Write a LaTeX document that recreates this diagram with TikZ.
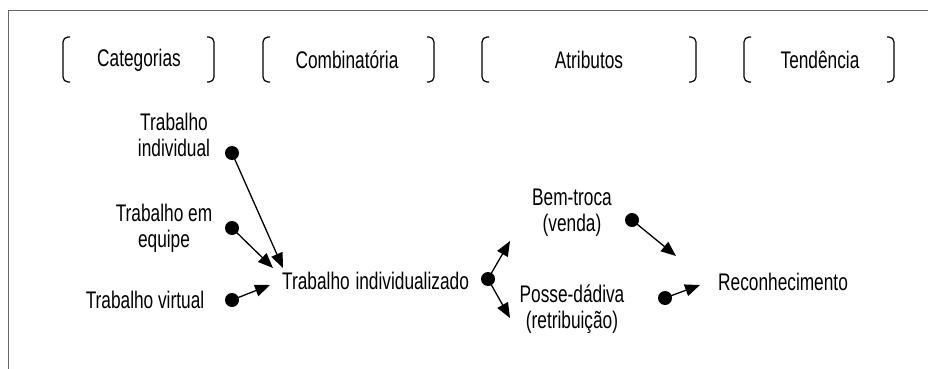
\documentclass[tikz,border=0pt]{standalone}
\usepackage{fontspec}
\setmainfont{Liberation Sans}[FakeStretch=0.72]
\usetikzlibrary{arrows.meta}
\begin{document}
\begin{tikzpicture}[x=1pt,y=-1pt,
  lbl/.style={font=\fontsize{24}{26}\selectfont, inner sep=0pt, align=center, text=black},
  dotnode/.style={circle, fill=black, inner sep=0pt, minimum size=14pt},
  conn/.style={line width=1.3pt, -{Triangle[length=15pt,width=12pt]}},
  brk/.style={line width=1.2pt, rounded corners=5pt}
]
\useasboundingbox (0,0) rectangle (928,369);
\draw[gray!80!black, line width=1pt] (928,11) -- (8,11) -- (8,369);

% header brackets
\draw[brk] (70,37) -- (63,37) -- (63,82) -- (70,82);
\draw[brk] (207,37) -- (214,37) -- (214,82) -- (207,82);
\node[lbl] (hcat) at (139,60) {Categorias};
\draw[brk] (270,37) -- (263,37) -- (263,82) -- (270,82);
\draw[brk] (427,37) -- (434,37) -- (434,82) -- (427,82);
\node[lbl] (hcomb) at (347,60) {Combinatória};
\draw[brk] (489,37) -- (482,37) -- (482,82) -- (489,82);
\draw[brk] (689,37) -- (696,37) -- (696,82) -- (689,82);
\node[lbl] (hatr) at (589,60) {Atributos};
\draw[brk] (751,37) -- (744,37) -- (744,82) -- (751,82);
\draw[brk] (887,37) -- (894,37) -- (894,82) -- (887,82);
\node[lbl] (hten) at (820,60) {Tendência};

% left column
\node[lbl] (tind) at (174,135) {Trabalho\\individual};
\node[lbl] (tequ) at (164,228) {Trabalho em\\equipe};
\node[lbl] (tvir) at (145,300) {Trabalho virtual};
\node[dotnode] (d1) at (232,153) {};
\node[dotnode] (d2) at (232,228) {};
\node[dotnode] (d3) at (232,300) {};

% centre
\node[lbl, anchor=west] (tiz) at (282,281) {Trabalho\hspace{1pt} individualizado};
\node[dotnode] (d4) at (488,279) {};
\coordinate (a1) at (283,268);
\coordinate (a2) at (273,268);
\coordinate (a3) at (270,285);
\coordinate (a4) at (510,241);
\coordinate (a5) at (510,318);

% attributes
\node[lbl] (bem) at (572,213) {Bem-troca\\(venda)};
\node[lbl] (pos) at (572,309) {Posse-dádiva\\(retribuição)};
\node[dotnode] (d5) at (632,220) {};
\node[dotnode] (d6) at (665,298) {};
\coordinate (a6) at (676,256);
\coordinate (a7) at (700,285);

\node[lbl, anchor=west] (rec) at (718,282) {Reconhecimento};

\draw[conn] (d1.center) -- (a1);
\draw[conn] (d2.center) -- (a2);
\draw[conn] (d3.center) -- (a3);
\draw[conn] (d4.center) -- (a4);
\draw[conn] (d4.center) -- (a5);
\draw[conn] (d5.center) -- (a6);
\draw[conn] (d6.center) -- (a7);
\end{tikzpicture}
\end{document}
